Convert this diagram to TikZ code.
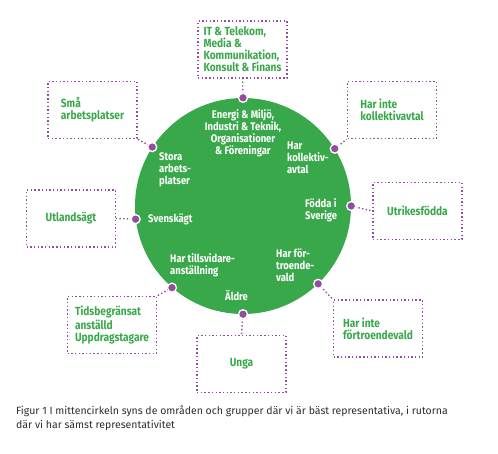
\documentclass[tikz,border=0pt]{standalone}
\usepackage{fontspec}
\setmainfont{Fira Sans}[FakeStretch=0.86]
\newfontfamily\captionfont{Fira Sans}
\usetikzlibrary{positioning}
\definecolor{grass}{RGB}{57,168,74}
\definecolor{plum}{RGB}{146,78,158}
\definecolor{ink}{RGB}{45,45,45}
\tikzset{
  hub/.style={circle,fill=grass,minimum size=216pt,inner sep=0pt},
  inlabel/.style={text=white,font=\fontsize{11}{12}\selectfont\bfseries,align=left,inner sep=0pt},
  outbox/.style={draw=plum,line width=1.4pt,dash pattern=on 1.4pt off 2.3pt,
    minimum width=89pt,minimum height=57pt,align=left,text=grass,
    font=\fontsize{11.8}{12}\selectfont\bfseries},
  link/.style={draw=plum,line width=1.4pt,dash pattern=on 1.4pt off 2.3pt},
  pin/.style={circle,fill=plum,draw=white,line width=1.3pt,minimum size=9pt,inner sep=0pt},
}
\begin{document}
\begin{tikzpicture}[x=1pt,y=-1pt]
  \useasboundingbox (0,0) rectangle (498,453);
  % middle circle
  \node[hub] (circ) at (243,206) {};
  \node[inlabel,align=center] (energi) at (243,133) {Energi \& Miljö,\\Industri \& Teknik,\\Organisationer\\\& Föreningar};
  \node[inlabel,anchor=north west] (stora) at (159,152) {Stora\\arbets-\\platser};
  \node[inlabel,anchor=west] (svensk) at (148,219) {Svenskägt};
  \node[inlabel,anchor=north west] (harkoll) at (287,142) {Har\\kollektiv-\\avtal};
  \node[inlabel,anchor=north west] (fodda) at (305,198) {Födda i\\Sverige};
  \node[inlabel,anchor=north west] (tillsv) at (170,253) {Har tillsvidare-\\anställning};
  \node[inlabel,anchor=west] (aldre) at (225,296) {Äldre};
  \node[inlabel,anchor=north west] (fortr) at (276,249) {Har för-\\troende-\\vald};
  % outer boxes
  \node[outbox] (bransch) at (242.5,49.5) {IT \& Telekom,\\Media \&\\Kommunikation,\\Konsult \& Finans};
  \node[outbox] (smaa) at (92.5,110) {Små\\arbetsplatser};
  \node[outbox] (utland) at (71,218.5) {Utlandsägt};
  \node[outbox] (ejkoll) at (392,110) {Har inte\\kollektivavtal};
  \node[outbox] (utrikes) at (417.5,211) {Utrikesfödda};
  \node[outbox] (tidsb) at (112,325) {Tidsbegränsat\\anställd\\Uppdragstagare};
  \node[outbox] (unga) at (241.5,364) {Unga};
  \node[outbox] (ejfortr) at (378,328.5) {Har inte\\förtroendevald};
  % links and pins
  \draw[link] (circ.90) -- (bransch.south);
  \draw[link] (circ.147) -- (smaa.south east);
  \draw[link] (circ.187) -- (utland.east);
  \draw[link] (circ.32) -- (ejkoll.south west);
  \draw[link] (circ.0) -- (utrikes.west);
  \draw[link] (circ.229) -- (tidsb.north east);
  \draw[link] (circ.270) -- (unga.north);
  \draw[link] (circ.314) -- (ejfortr.north west);
  \foreach \a in {90,147,187,32,0,229,270,314}
    \node[pin] at (circ.\a) {};
  % caption
  \node[anchor=north west,text=ink,align=left,inner sep=0pt,font=\captionfont\fontsize{10.5}{14}\selectfont] (caption) at (16,406)
    {Figur 1 I mittencirkeln syns de områden och grupper där vi är bäst representativa, i rutorna\\där vi har sämst representativitet};
\end{tikzpicture}
\end{document}
